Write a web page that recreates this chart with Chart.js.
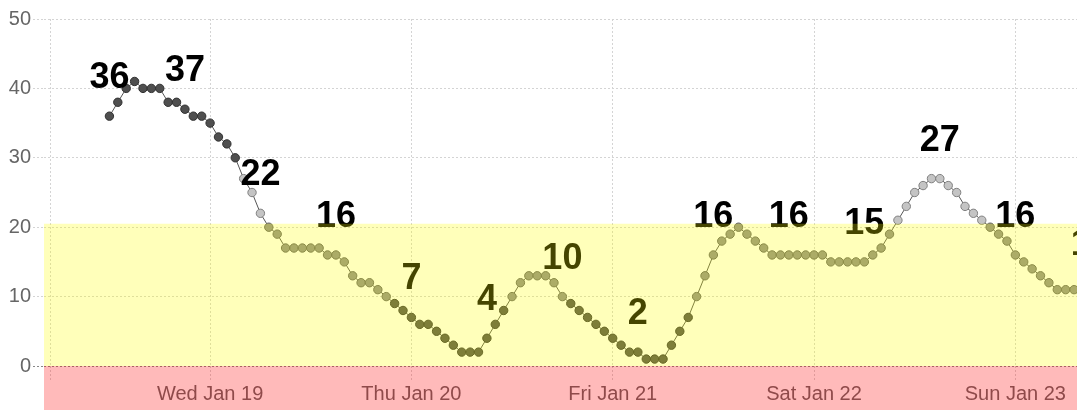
<!DOCTYPE html>
<html>
<head>
<meta charset="utf-8">
<script src="https://cdn.jsdelivr.net/npm/chart.js@4/dist/chart.umd.min.js"></script>
<style>
  html, body { margin: 0; padding: 0; background: #fff; }
  #wrap { width: 1077px; height: 410px; }
</style>
</head>
<body>
<div id="wrap"><canvas id="chart" width="1077" height="410"></canvas></div>
<script>
// hours relative to Wed Jan 19 00:00, one reading per hour
const hours = [
  -12, -11, -10, -9, -8, -7, -6, -5, -4, -3, -2, -1,
  0, 1, 2, 3, 4, 5, 6, 7, 8, 9, 10, 11, 12, 13, 14, 15, 16, 17, 18, 19, 20, 21, 22, 23,
  24, 25, 26, 27, 28, 29, 30, 31, 32, 33, 34, 35, 36, 37, 38, 39, 40, 41, 42, 43, 44, 45, 46, 47,
  48, 49, 50, 51, 52, 53, 54, 55, 56, 57, 58, 59, 60, 61, 62, 63, 64, 65, 66, 67, 68, 69, 70, 71,
  72, 73, 74, 75, 76, 77, 78, 79, 80, 81, 82, 83, 84, 85, 86, 87, 88, 89, 90, 91, 92, 93, 94, 95,
  96, 97, 98, 99, 100, 101, 102, 103, 104, 105
];
const readings = [
  36, 38, 40, 41, 40, 40, 40, 38, 38, 37, 36, 36,
  35, 33, 32, 30, 27, 25, 22, 20, 19, 17, 17, 17, 17, 17, 16, 16, 15, 13, 12, 12, 11, 10, 9, 8,
  7, 6, 6, 5, 4, 3, 2, 2, 2, 4, 6, 8, 10, 12, 13, 13, 13, 12, 10, 9, 8, 7, 6, 5,
  4, 3, 2, 2, 1, 1, 1, 3, 5, 7, 10, 13, 16, 18, 19, 20, 19, 18, 17, 16, 16, 16, 16, 16,
  16, 16, 15, 15, 15, 15, 15, 16, 17, 19, 21, 23, 25, 26, 27, 27, 26, 25, 23, 22, 21, 20, 19, 18,
  16, 15, 14, 13, 12, 11, 11, 11, 11, 12
];
// every 9th reading gets its value written above it
const labelHours = [-12, -3, 6, 15, 24, 33, 42, 51, 60, 69, 78, 87, 96, 105];

const dayTicks = [-19, 0, 24, 48, 72, 96];
const dayLabels = ['', 'Wed Jan 19', 'Thu Jan 20', 'Fri Jan 21', 'Sat Jan 22', 'Sun Jan 23'];
const yTicks = [0, 10, 20, 30, 40, 50];

const lowLimit = 0;
const highLimit = 20.5;

const FONT = "Arial, 'Liberation Sans', sans-serif";

function pointFill(v) {
    if (v >= 29 || v <= 9) return '#4f4f4f';
    if (v > highLimit) return '#c4c4c4';
    return '#8e8e8e';
}
function pointEdge(v) {
    if (v >= 29 || v <= 9) return '#303030';
    if (v > highLimit) return '#808080';
    return '#606060';
}

const valueLabels = {
    id: 'valueLabels',
    afterDatasetsDraw(chart) {
        const { ctx, scales: { x, y } } = chart;
        ctx.save();
        ctx.font = 'bold 36px ' + FONT;
        ctx.fillStyle = '#000';
        ctx.textAlign = 'center';
        ctx.textBaseline = 'alphabetic';
        labelHours.forEach(h => {
            const v = readings[hours.indexOf(h)];
            ctx.fillText(String(v), x.getPixelForValue(h), y.getPixelForValue(v) - 28);
        });
        ctx.restore();
    }
};

// target range bands, painted on top of everything
const bands = {
    id: 'bands',
    afterDraw(chart) {
        const { ctx, chartArea, scales: { y } } = chart;
        const yLow = y.getPixelForValue(lowLimit);
        const yHigh = y.getPixelForValue(highLimit);
        ctx.save();
        ctx.fillStyle = 'rgba(255, 255, 0, 0.27)';
        ctx.fillRect(chartArea.left, yHigh, chart.width - chartArea.left, yLow - yHigh);
        ctx.fillStyle = 'rgba(255, 0, 0, 0.27)';
        ctx.fillRect(chartArea.left, yLow, chart.width - chartArea.left, chart.height - yLow);
        ctx.restore();
    }
};

const points = hours.map((h, i) => ({ x: h, y: readings[i] }));

new Chart(document.getElementById('chart'), {
    type: 'line',
    data: {
        datasets: [{
            data: points,
            borderColor: '#555',
            borderWidth: 1,
            tension: 0,
            pointRadius: 4.2,
            pointBorderWidth: 1,
            pointBackgroundColor: c => pointFill(c.raw.y),
            pointBorderColor: c => pointEdge(c.raw.y)
        }]
    },
    options: {
        responsive: false,
        animation: false,
        layout: { autoPadding: false, padding: { top: 19, left: 0, right: 0, bottom: 0 } },
        plugins: {
            legend: { display: false },
            tooltip: { enabled: false }
        },
        scales: {
            x: {
                type: 'linear',
                min: -19.8,
                max: 103.35,
                afterBuildTicks: s => { s.ticks = dayTicks.map(v => ({ value: v })); },
                afterFit: s => { s.height = 44; },
                ticks: {
                    autoSkip: false,
                    maxRotation: 0,
                    padding: 2,
                    color: '#666',
                    font: { family: FONT, size: 20 },
                    callback: v => dayLabels[dayTicks.indexOf(v)]
                },
                grid: {
                    color: '#d4d4d4',
                    tickColor: '#d4d4d4',
                    tickLength: 14,
                    tickBorderDash: [2, 2]
                },
                border: { display: false, dash: [2, 2] }
            },
            y: {
                min: 0,
                max: 50,
                afterBuildTicks: s => { s.ticks = yTicks.map(v => ({ value: v })); },
                afterFit: s => { s.width = 44; },
                ticks: {
                    padding: 2,
                    color: '#666',
                    font: { family: FONT, size: 20 }
                },
                grid: {
                    color: c => c.tick && c.tick.value === 0 ? '#888' : '#d4d4d4',
                    tickColor: c => c.tick && c.tick.value === 0 ? '#888' : '#d4d4d4',
                    tickLength: 11,
                    tickBorderDash: [2, 2]
                },
                border: { display: false, dash: [2, 2] }
            }
        }
    },
    plugins: [valueLabels, bands]
});
</script>
</body>
</html>
